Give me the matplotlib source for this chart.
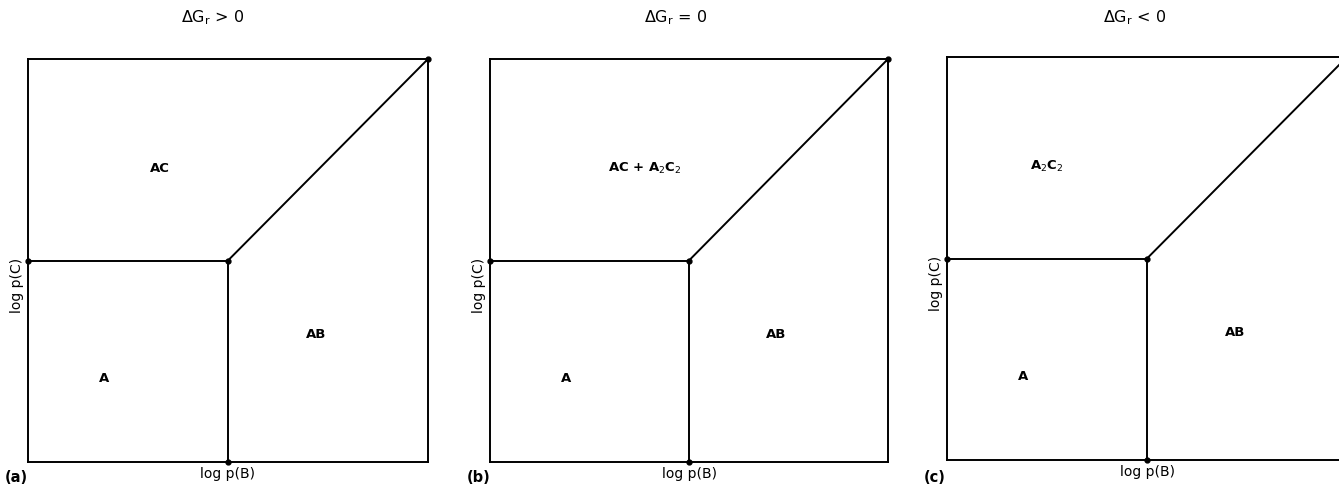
import matplotlib.pyplot as plt

plt.rcParams['font.family'] = ['DejaVu Sans']

# Phase boundaries (normalised log p(B), log p(C)); triple point in the middle
triple = (0.5, 0.5)
boundary_ends = [(0.0, 0.5), (0.5, 0.0), (1.0, 1.0)]

panel_tags = ['(a)', '(b)', '(c)']
titles = [r'$\Delta$G$_\mathrm{r}$ > 0', r'$\Delta$G$_\mathrm{r}$ = 0', r'$\Delta$G$_\mathrm{r}$ < 0']
upper_phase = ['AC', r'AC + A$_\mathrm{2}$C$_\mathrm{2}$', r'A$_\mathrm{2}$C$_\mathrm{2}$']
upper_pos = [(0.33, 0.73), (0.39, 0.73), (0.25, 0.73)]
lower_phases = ['A', 'AB']
lower_pos = [(0.19, 0.21), (0.72, 0.32)]

# axes rectangles in figure pixels: left, bottom (from image top), width, height
W, H = 1339, 489
boxes = [(28, 463, 400, 403), (490, 463, 398, 403), (947, 461, 400, 403)]
title_x = [213, 676, 1135]

fig = plt.figure(figsize=(W / 100, H / 100), dpi=100)

for i, (x0, yb, w, h) in enumerate(boxes):
    ax = fig.add_axes([x0 / W, (H - yb) / H, w / W, h / H])
    ax.set_xlim(0, 1)
    ax.set_ylim(0, 1)
    ax.set_xticks([])
    ax.set_yticks([])
    for s in ax.spines.values():
        s.set_linewidth(1.4)
        s.set_color('black')

    for end in boundary_ends:
        ax.plot([triple[0], end[0]], [triple[1], end[1]], color='black', lw=1.4,
                solid_capstyle='butt', clip_on=False)
    pts = [triple] + boundary_ends
    ax.plot([p[0] for p in pts], [p[1] for p in pts], 'o', color='black',
            ms=3.5, clip_on=False, zorder=5)

    ax.text(*upper_pos[i], upper_phase[i], ha='center', va='center',
            fontsize=9.5, fontweight='bold', transform=ax.transAxes)
    for lab, pos in zip(lower_phases, lower_pos):
        ax.text(*pos, lab, ha='center', va='center', fontsize=9.5,
                fontweight='bold', transform=ax.transAxes)

    ax.text(0.5, -0.01, 'log p(B)', ha='center', va='top', fontsize=10,
            transform=ax.transAxes)
    ax.text(-0.027, 0.44, 'log p(C)', ha='center', va='center', fontsize=10,
            rotation=90, transform=ax.transAxes)

    fig.text(x0 / W - 0.017, (H - 478) / H, panel_tags[i], ha='left', va='center',
             fontsize=10.5, fontweight='bold')
    fig.text(title_x[i] / W, (H - 18) / H, titles[i], ha='center', va='center',
             fontsize=11.5)

fig.savefig('out.png', dpi=100, facecolor='white')
